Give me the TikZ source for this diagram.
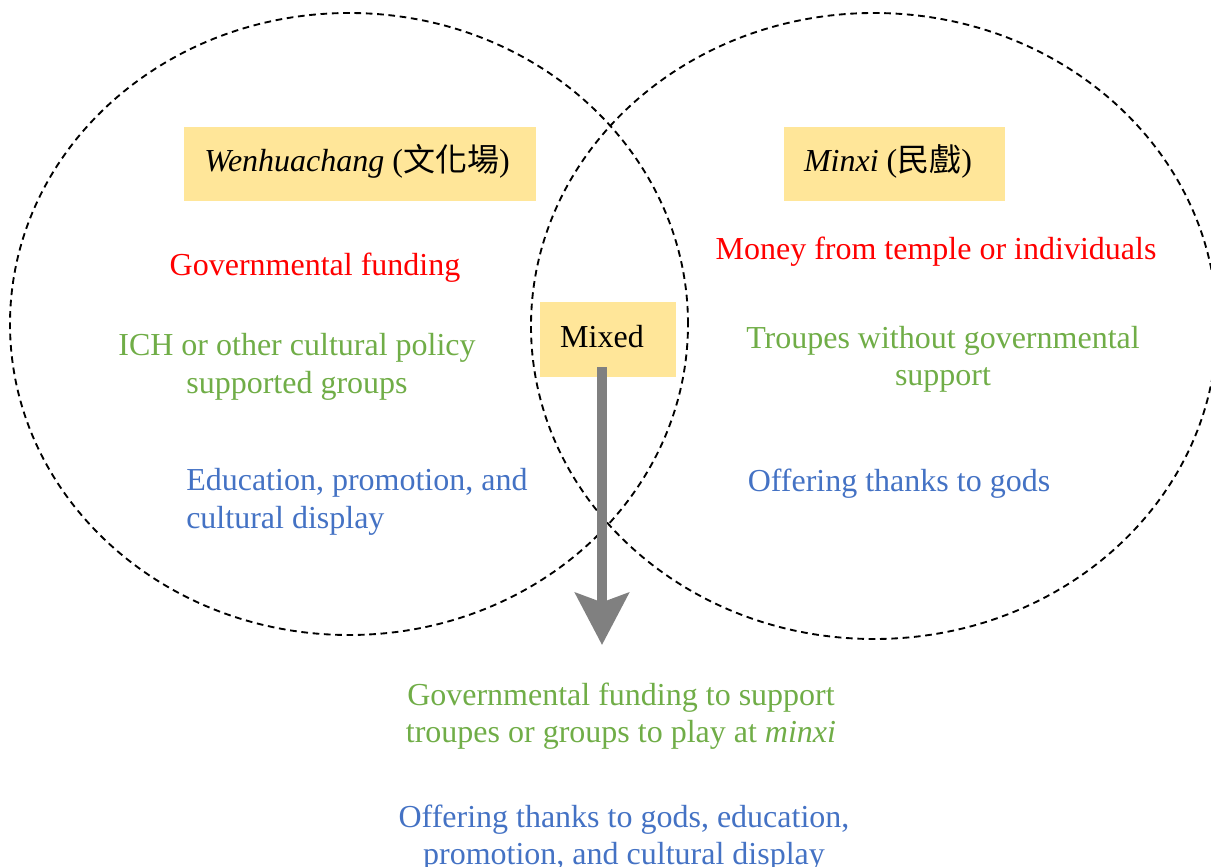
\documentclass[tikz,border=0pt]{standalone}
\usepackage{fontspec}
\setmainfont{Liberation Serif}
\newfontfamily\cjk{Noto Sans CJK TC}
\usetikzlibrary{arrows.meta}
\definecolor{boxfill}{HTML}{FFE699}
\definecolor{tred}{HTML}{FF0000}
\definecolor{tgreen}{HTML}{70AD47}
\definecolor{tblue}{HTML}{4472C4}
\definecolor{arrowgray}{HTML}{808080}
\begin{document}
\begin{tikzpicture}[x=0.75pt,y=-0.75pt,
  every node/.style={font=\fontsize{24}{28}\selectfont, inner sep=0pt},
  circ/.style={draw=black, dashed, dash pattern=on 5pt off 3.5pt, line width=1.4pt},
  hbox/.style={fill=boxfill, draw=none, minimum width=#1*0.75pt, minimum height=56pt},
  redtxt/.style={text=tred, align=center},
  greentxt/.style={text=tgreen, align=center},
  bluetxt/.style={text=tblue, align=center},
  bigarrow/.style={draw=arrowgray, line width=7.5pt, -{Stealth[length=39pt, width=40pt, inset=7pt]}}
]
\useasboundingbox (0,0) rectangle (1211,867);
% ellipses
\draw[circ] (349,324) ellipse [x radius=339*0.75pt, y radius=311*0.75pt];
\draw[circ] (874,326) ellipse [x radius=343*0.75pt, y radius=313*0.75pt];
% header boxes
\node[hbox=352] (lbox) at (360,164) {};
\node (ltitle) at (357,161) {\textit{Wenhuachang} ({\cjk 文化場})};
\node[hbox=221] (rbox) at (894.5,164) {};
\node (rtitle) at (888,161) {\textit{Minxi} ({\cjk 民戲})};
% mixed box
\node[hbox=136] (mbox) at (608,339.5) {};
\node (mixed) at (602,337) {Mixed};
% left texts
\node[redtxt] (lred) at (315,268) {Governmental funding};
\node[greentxt] (lgreen) at (297,367) {ICH or other cultural policy\\supported groups};
\node[bluetxt, align=left, anchor=west] (lblue) at (186,502) {Education, promotion, and\\cultural display};
% right texts
\node[redtxt] (rred) at (936,252) {Money from temple or individuals};
\node[greentxt] (rgreen) at (943,359) {Troupes without governmental\\support};
\node[bluetxt] (rblue) at (899,484) {Offering thanks to gods};
% bottom texts
\node[greentxt] (bgreen) at (621,716) {Governmental funding to support\\troupes or groups to play at \textit{minxi}};
\node[bluetxt] (bblue) at (624,838) {Offering thanks to gods, education,\\promotion, and cultural display};
% arrow
\coordinate (astart) at (602,367);
\coordinate (aend) at (602,645);
\draw[bigarrow] (astart) -- (aend);
\end{tikzpicture}
\end{document}
